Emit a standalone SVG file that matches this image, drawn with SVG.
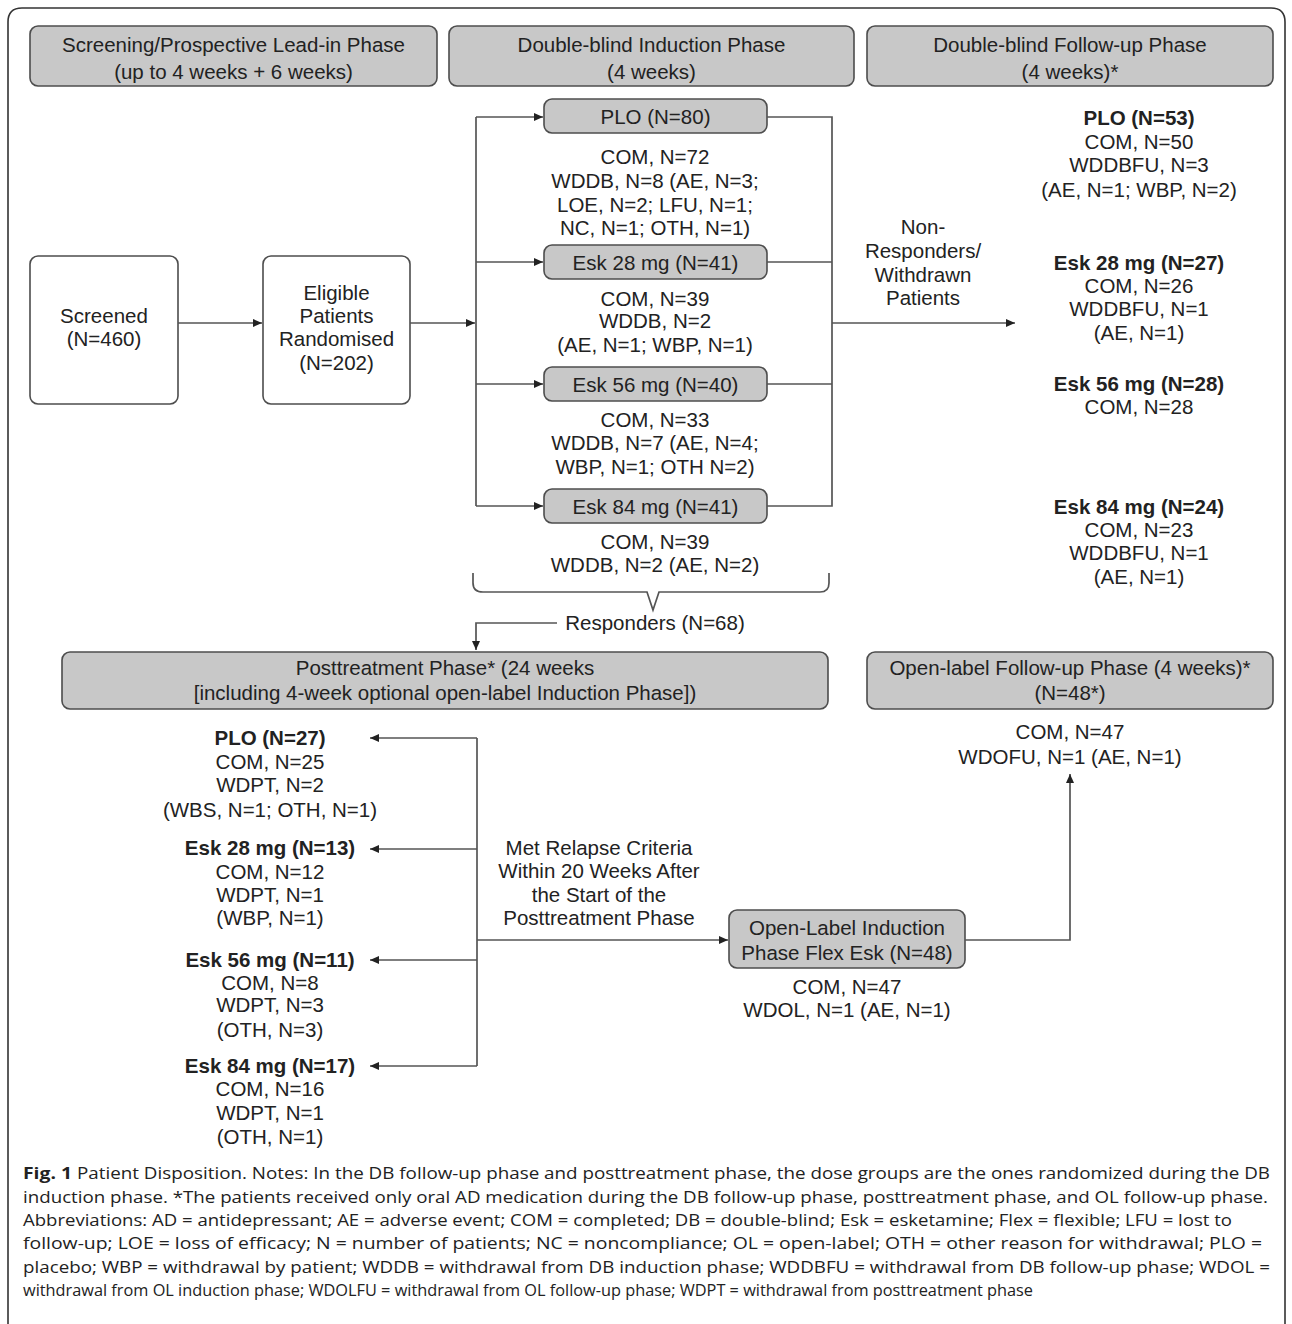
<svg xmlns="http://www.w3.org/2000/svg" width="1292" height="1324" viewBox="0 0 1292 1324">
<style>
.t{font-family:"Liberation Sans",Arial,sans-serif;font-size:20.5px;fill:#222;text-anchor:middle}
.b{font-weight:bold}
.cap{font-family:"Open Sans","Liberation Sans",sans-serif;font-size:16.5px;fill:#222}
.box{fill:#c8c8c8;stroke:#4d4d4d;stroke-width:1.6}
.wbox{fill:#fff;stroke:#4d4d4d;stroke-width:1.6}
.ln{fill:none;stroke:#555;stroke-width:1.7}
</style>
<defs>
<marker id="ah" markerUnits="userSpaceOnUse" markerWidth="10" markerHeight="10" refX="9" refY="4" orient="auto">
<path d="M0,0 L9,4 L0,8 Z" fill="#222"/>
</marker>
</defs>
<rect width="1292" height="1324" fill="#fff"/>
<path d="M8,1330 V22 Q8,8 22,8 H1271 Q1285,8 1285,22 V1330" fill="none" stroke="#333" stroke-width="1.6"/>

<g id="hdr-screening"><rect class="box" x="30" y="26" width="407" height="60" rx="8"/><text class="t" x="233.5" y="52">Screening/Prospective Lead-in Phase</text><text class="t" x="233.5" y="78.5">(up to 4 weeks + 6 weeks)</text></g>
<g id="hdr-induction"><rect class="box" x="449" y="26" width="405" height="60" rx="8"/><text class="t" x="651.5" y="52">Double-blind Induction Phase</text><text class="t" x="651.5" y="78.5">(4 weeks)</text></g>
<g id="hdr-followup"><rect class="box" x="867" y="26" width="406" height="60" rx="8"/><text class="t" x="1070" y="52">Double-blind Follow-up Phase</text><text class="t" x="1070" y="78.5">(4 weeks)*</text></g>

<g id="screened"><rect class="wbox" x="30" y="256" width="148" height="148" rx="8"/><text class="t" x="104" y="323">Screened</text><text class="t" x="104" y="346">(N=460)</text></g>
<g id="eligible"><rect class="wbox" x="263" y="256" width="147" height="148" rx="8"/><text class="t" x="336.5" y="300">Eligible</text><text class="t" x="336.5" y="323">Patients</text><text class="t" x="336.5" y="346">Randomised</text><text class="t" x="336.5" y="370">(N=202)</text></g>

<g id="plo-db"><rect class="box" x="544" y="99" width="223" height="34" rx="8"/><text class="t" x="655.5" y="123.5">PLO (N=80)</text>
<text class="t" x="655" y="164">COM, N=72</text><text class="t" x="655" y="188">WDDB, N=8 (AE, N=3;</text><text class="t" x="655" y="212">LOE, N=2; LFU, N=1;</text><text class="t" x="655" y="235">NC, N=1; OTH, N=1)</text></g>
<g id="esk28-db"><rect class="box" x="544" y="245" width="223" height="34" rx="8"/><text class="t" x="655.5" y="269.5">Esk 28 mg (N=41)</text>
<text class="t" x="655" y="306">COM, N=39</text><text class="t" x="655" y="328">WDDB, N=2</text><text class="t" x="655" y="352">(AE, N=1; WBP, N=1)</text></g>
<g id="esk56-db"><rect class="box" x="544" y="367" width="223" height="34" rx="8"/><text class="t" x="655.5" y="391.5">Esk 56 mg (N=40)</text>
<text class="t" x="655" y="427">COM, N=33</text><text class="t" x="655" y="450">WDDB, N=7 (AE, N=4;</text><text class="t" x="655" y="474">WBP, N=1; OTH N=2)</text></g>
<g id="esk84-db"><rect class="box" x="544" y="489" width="223" height="34" rx="8"/><text class="t" x="655.5" y="513.5">Esk 84 mg (N=41)</text>
<text class="t" x="655" y="549">COM, N=39</text><text class="t" x="655" y="572">WDDB, N=2 (AE, N=2)</text></g>

<g id="fu-plo"><text class="t b" x="1139" y="125">PLO (N=53)</text><text class="t" x="1139" y="149">COM, N=50</text><text class="t" x="1139" y="172">WDDBFU, N=3</text><text class="t" x="1139" y="197">(AE, N=1; WBP, N=2)</text></g>
<g id="fu-esk28"><text class="t b" x="1139" y="270">Esk 28 mg (N=27)</text><text class="t" x="1139" y="293">COM, N=26</text><text class="t" x="1139" y="316">WDDBFU, N=1</text><text class="t" x="1139" y="340">(AE, N=1)</text></g>
<g id="fu-esk56"><text class="t b" x="1139" y="391">Esk 56 mg (N=28)</text><text class="t" x="1139" y="414">COM, N=28</text></g>
<g id="fu-esk84"><text class="t b" x="1139" y="514">Esk 84 mg (N=24)</text><text class="t" x="1139" y="537">COM, N=23</text><text class="t" x="1139" y="560">WDDBFU, N=1</text><text class="t" x="1139" y="584">(AE, N=1)</text></g>

<g id="posttreatment"><rect class="box" x="62" y="652" width="766" height="57" rx="8"/><text class="t" x="445" y="675">Posttreatment Phase* (24 weeks</text><text class="t" x="445" y="700">[including 4-week optional open-label Induction Phase])</text></g>
<g id="ol-followup"><rect class="box" x="867" y="652" width="406" height="57" rx="8"/><text class="t" x="1070" y="675">Open-label Follow-up Phase (4 weeks)*</text><text class="t" x="1070" y="700">(N=48*)</text>
<text class="t" x="1070" y="739">COM, N=47</text><text class="t" x="1070" y="764">WDOFU, N=1 (AE, N=1)</text></g>

<g id="pt-plo"><text class="t b" x="270" y="745">PLO (N=27)</text><text class="t" x="270" y="769">COM, N=25</text><text class="t" x="270" y="792">WDPT, N=2</text><text class="t" x="270" y="817">(WBS, N=1; OTH, N=1)</text></g>
<g id="pt-esk28"><text class="t b" x="270" y="855">Esk 28 mg (N=13)</text><text class="t" x="270" y="879">COM, N=12</text><text class="t" x="270" y="902">WDPT, N=1</text><text class="t" x="270" y="925">(WBP, N=1)</text></g>
<g id="pt-esk56"><text class="t b" x="270" y="967">Esk 56 mg (N=11)</text><text class="t" x="270" y="990">COM, N=8</text><text class="t" x="270" y="1012">WDPT, N=3</text><text class="t" x="270" y="1037">(OTH, N=3)</text></g>
<g id="pt-esk84"><text class="t b" x="270" y="1073">Esk 84 mg (N=17)</text><text class="t" x="270" y="1096">COM, N=16</text><text class="t" x="270" y="1120">WDPT, N=1</text><text class="t" x="270" y="1144">(OTH, N=1)</text></g>

<g id="ol-induction"><rect class="box" x="729" y="910" width="236" height="58" rx="8"/><text class="t" x="847" y="935">Open-Label Induction</text><text class="t" x="847" y="960">Phase Flex Esk (N=48)</text>
<text class="t" x="847" y="994">COM, N=47</text><text class="t" x="847" y="1017">WDOL, N=1 (AE, N=1)</text></g>

<g id="connectors">
<path class="ln" d="M178,323 H262" marker-end="url(#ah)"/>
<path class="ln" d="M410,323 H475" marker-end="url(#ah)"/>
<path class="ln" d="M476,117 V506"/>
<path class="ln" d="M476,117 H543" marker-end="url(#ah)"/>
<path class="ln" d="M476,262 H543" marker-end="url(#ah)"/>
<path class="ln" d="M476,384 H543" marker-end="url(#ah)"/>
<path class="ln" d="M476,506 H543" marker-end="url(#ah)"/>
<path class="ln" d="M767,117 H832 V506 H767"/>
<path class="ln" d="M767,262 H832"/>
<path class="ln" d="M767,384 H832"/>
<path class="ln" d="M832,323 H1015" marker-end="url(#ah)"/>
<path class="ln" d="M473,573 V583 Q473,592 483,592 H647 L653,610 L659,592 H820 Q829,592 829,583 V573"/>
<path class="ln" d="M557,623 H476 V650" marker-end="url(#ah)"/>
<path class="ln" d="M477,738 V1066"/>
<path class="ln" d="M477,738 H370" marker-end="url(#ah)"/>
<path class="ln" d="M477,849 H370" marker-end="url(#ah)"/>
<path class="ln" d="M477,960 H370" marker-end="url(#ah)"/>
<path class="ln" d="M477,1066 H370" marker-end="url(#ah)"/>
<path class="ln" d="M477,940 H728" marker-end="url(#ah)"/>
<path class="ln" d="M965,940 H1070 V774" marker-end="url(#ah)"/>
</g>

<g id="labels">
<text class="t" x="923" y="234">Non-</text><text class="t" x="923" y="258">Responders/</text><text class="t" x="923" y="282">Withdrawn</text><text class="t" x="923" y="305">Patients</text>
<text class="t" x="655" y="630">Responders (N=68)</text>
<text class="t" x="599" y="855">Met Relapse Criteria</text><text class="t" x="599" y="878">Within 20 Weeks After</text><text class="t" x="599" y="902">the Start of the</text><text class="t" x="599" y="925">Posttreatment Phase</text>
</g>

<g id="caption">
<text class="cap" x="23" y="1179" font-weight="bold" textLength="49" lengthAdjust="spacingAndGlyphs">Fig. 1</text>
<text class="cap" x="77" y="1179" textLength="1193" lengthAdjust="spacingAndGlyphs">Patient Disposition. Notes: In the DB follow-up phase and posttreatment phase, the dose groups are the ones randomized during the DB</text>
<text class="cap" x="23" y="1202.5" textLength="1245" lengthAdjust="spacingAndGlyphs">induction phase. *The patients received only oral AD medication during the DB follow-up phase, posttreatment phase, and OL follow-up phase.</text>
<text class="cap" x="23" y="1226" textLength="1209" lengthAdjust="spacingAndGlyphs">Abbreviations: AD = antidepressant; AE = adverse event; COM = completed; DB = double-blind; Esk = esketamine; Flex = flexible; LFU = lost to</text>
<text class="cap" x="23" y="1249" textLength="1239" lengthAdjust="spacingAndGlyphs">follow-up; LOE = loss of efficacy; N = number of patients; NC = noncompliance; OL = open-label; OTH = other reason for withdrawal; PLO =</text>
<text class="cap" x="23" y="1272.5" textLength="1247" lengthAdjust="spacingAndGlyphs">placebo; WBP = withdrawal by patient; WDDB = withdrawal from DB induction phase; WDDBFU = withdrawal from DB follow-up phase; WDOL =</text>
<text class="cap" x="23" y="1296" textLength="1010" lengthAdjust="spacingAndGlyphs">withdrawal from OL induction phase; WDOLFU = withdrawal from OL follow-up phase; WDPT = withdrawal from posttreatment phase</text>
</g>
</svg>
